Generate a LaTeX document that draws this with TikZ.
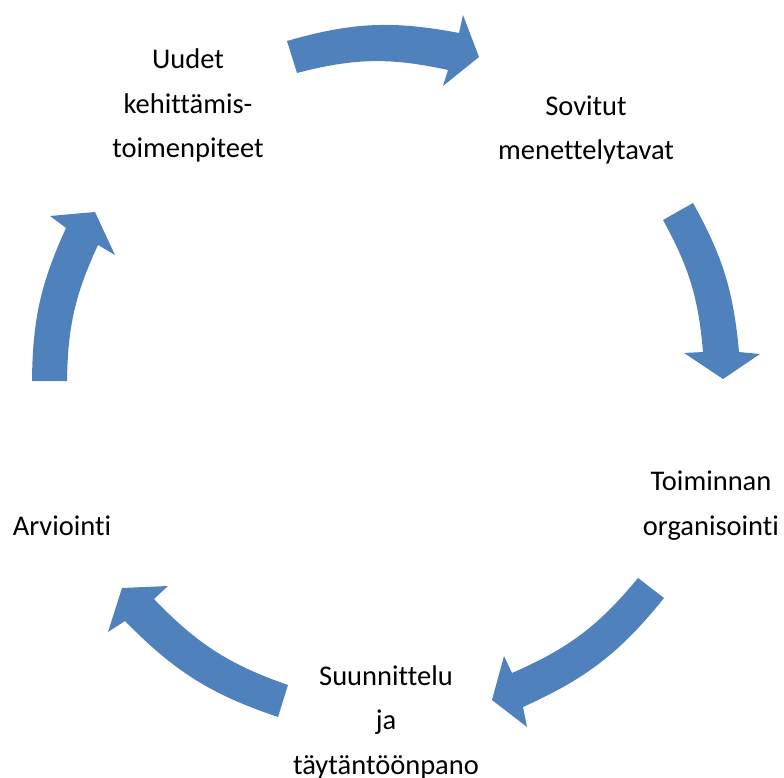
\documentclass[tikz,border=0pt]{standalone}
\usepackage{fontspec}
\setmainfont{Carlito}[Ligatures=NoCommon]
\definecolor{cycleblue}{RGB}{79,129,189}
\tikzset{
 cycletext/.style={align=center, anchor=base, inner sep=0pt,
   font=\fontsize{28.5}{44.5}\selectfont},
 cyclearrow/.style={fill=cycleblue}
}
\begin{document}
\begin{tikzpicture}[x=1pt,y=-1pt]
 \def\bendA{13.5}
 \def\bendB{12}
 \useasboundingbox (0,0) rectangle (784,778);

 %texts (anchored at the last line)
 \node(uudet)[cycletext] at (188,158) {Uudet\\kehittämis-\\toimenpiteet};
 \node(sovitut)[cycletext] at (586,160) {Sovitut\\menettelytavat};
 \node(toiminnan)[cycletext] at (711,535) {Toiminnan\\organisointi};
 \node(suunnittelu)[cycletext] at (386,774) {Suunnittelu\\ja\\täytäntöönpano};
 \node(arviointi)[cycletext] at (62,535) {Arviointi};

 %top arrow
 \fill[cyclearrow] (287,41) to[bend left=\bendA] (459,33) -- (463,15) -- (479,57)
   -- (443,86) -- (448,70) to[bend right=\bendA] (297,73) -- cycle;
 %right arrow
 \fill[cyclearrow] (693,203) to[bend left=\bendB] (739,352) -- (760,354) -- (723,379)
   -- (684,353) -- (703,352) to[bend right=\bendB] (663,220) -- cycle;
 %lower right arrow
 \fill[cyclearrow] (664,598) to[bend left=\bendA] (523,707) -- (527,727) -- (492,700)
   -- (504,656) -- (512,673) to[bend right=\bendA] (638,578) -- cycle;
 %lower left arrow
 \fill[cyclearrow] (278,717) to[bend left=\bendA] (125,621) -- (108,632) -- (122,588)
   -- (168,586) -- (154,599) to[bend right=\bendA] (288,685) -- cycle;
 %left arrow
 \fill[cyclearrow] (32,381) to[bend left=\bendB] (66,228) -- (50,216) -- (95,212)
   -- (115,255) -- (98,245) to[bend right=\bendB] (67,381) -- cycle;

\end{tikzpicture}
\end{document}
